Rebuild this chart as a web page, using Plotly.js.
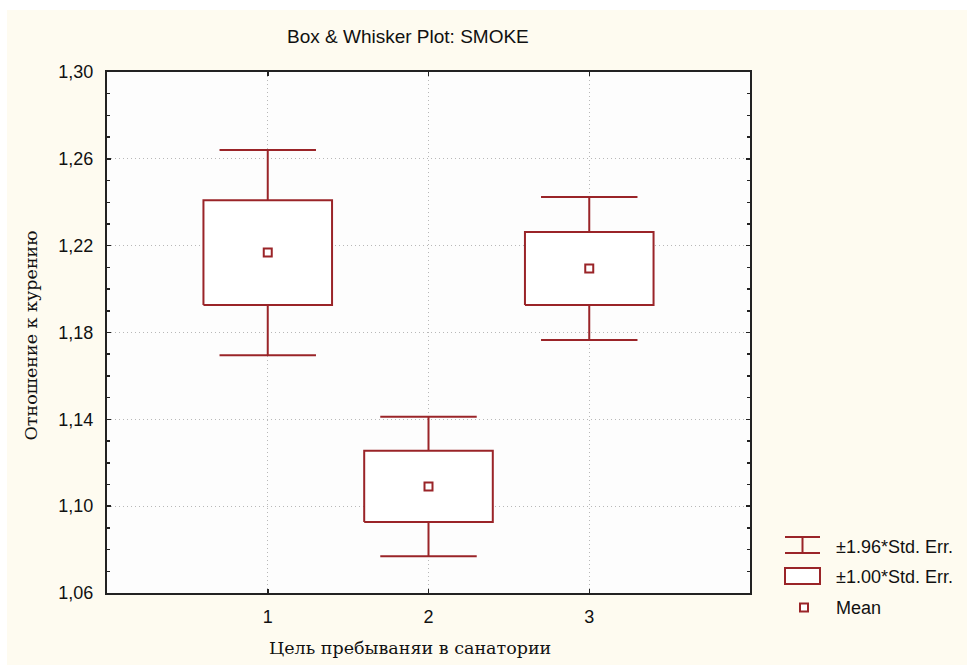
<!DOCTYPE html>
<html>
<head>
<meta charset="utf-8">
<script src="https://cdn.plot.ly/plotly-3.0.1.min.js"></script>
<style>
  html, body { margin: 0; padding: 0; background: #ffffff; }
  #chart { position: absolute; left: 7px; top: 10px; width: 960px; height: 655px; }
</style>
</head>
<body>
<div id="chart"></div>
<script>
// Groups (purpose of stay) and the summary statistics of SMOKE per group
const groups = [1, 2, 3];
const groupLabels = ['1', '2', '3'];
const means = [1.2168, 1.1091, 1.2095];
const stdErr = [0.0241, 0.0164, 0.0168];

// Y axis ticks
const yTicks = [1.06, 1.10, 1.14, 1.18, 1.22, 1.26, 1.30];

const seBoxFactor = 1.00;
const whiskerFactor = 1.96;

const COLOR = '#9a2428';
const BOX_HALF = 0.4;
const CAP_HALF = 0.3;

const traces = [];

// Whiskers: mean ± 1.96·SE with caps
const wx = [], wy = [];
groups.forEach((g, i) => {
  const bHi = means[i] + seBoxFactor * stdErr[i];
  const bLo = means[i] - seBoxFactor * stdErr[i];
  const wHi = means[i] + whiskerFactor * stdErr[i];
  const wLo = means[i] - whiskerFactor * stdErr[i];
  wx.push(g, g, null, g - CAP_HALF, g + CAP_HALF, null);
  wy.push(bHi, wHi, null, wHi, wHi, null);
  wx.push(g, g, null, g - CAP_HALF, g + CAP_HALF, null);
  wy.push(bLo, wLo, null, wLo, wLo, null);
});
traces.push({
  type: 'scatter', mode: 'lines', x: wx, y: wy,
  line: { color: COLOR, width: 2 }, hoverinfo: 'skip', showlegend: false
});

// Boxes: mean ± 1.00·SE, filled white
groups.forEach((g, i) => {
  const bHi = means[i] + seBoxFactor * stdErr[i];
  const bLo = means[i] - seBoxFactor * stdErr[i];
  traces.push({
    type: 'scatter', mode: 'lines',
    x: [g - BOX_HALF, g + BOX_HALF, g + BOX_HALF, g - BOX_HALF, g - BOX_HALF],
    y: [bLo, bLo, bHi, bHi, bLo],
    fill: 'toself', fillcolor: '#ffffff',
    line: { color: COLOR, width: 2 }, hoverinfo: 'skip', showlegend: false
  });
});

// Means
traces.push({
  type: 'scatter', mode: 'markers', x: groups, y: means,
  marker: { symbol: 'square-open', size: 8, color: COLOR, line: { color: COLOR, width: 2 } },
  hoverinfo: 'skip', showlegend: false
});

// Geometry of the plotting area inside the chart div (pixels)
const PL = 100, PR = 217, PT = 62, PB = 72, W = 960, H = 655;
const pw = W - PL - PR, ph = H - PT - PB;
const px = v => (v - 7 - PL) / pw;          // page x -> paper x
const py = v => (H - PB - (v - 10)) / ph;   // page y -> paper y

const sansFont = { family: 'Liberation Sans, Arial, sans-serif', size: 18, color: '#111111' };
const serifFont = { family: 'DejaVu Serif, serif', size: 17.5, color: '#111111' };

// Legend glyphs
const lx0 = px(785), lx1 = px(820), lxm = px(802.5);
const shapes = [
  { type: 'line', xref: 'paper', yref: 'paper', x0: lx0, x1: lx1, y0: py(537), y1: py(537), line: { color: COLOR, width: 2 } },
  { type: 'line', xref: 'paper', yref: 'paper', x0: lx0, x1: lx1, y0: py(553), y1: py(553), line: { color: COLOR, width: 2 } },
  { type: 'line', xref: 'paper', yref: 'paper', x0: lxm, x1: lxm, y0: py(537), y1: py(553), line: { color: COLOR, width: 2 } },
  { type: 'rect', xref: 'paper', yref: 'paper', x0: lx0, x1: lx1, y0: py(584), y1: py(568), fillcolor: '#ffffff', line: { color: COLOR, width: 2 } },
  { type: 'rect', xref: 'paper', yref: 'paper', x0: px(800), x1: px(808), y0: py(611.5), y1: py(603.5), fillcolor: '#ffffff', line: { color: COLOR, width: 2 } }
];

const annotations = [
  { text: 'Box & Whisker Plot: SMOKE', xref: 'paper', yref: 'paper', x: px(408), y: py(36),
    xanchor: 'center', yanchor: 'middle', showarrow: false, font: { ...sansFont, size: 19 } },
  { text: 'Цель пребываняи в санатории', xref: 'paper', yref: 'paper', x: px(410), y: py(648),
    xanchor: 'center', yanchor: 'middle', showarrow: false, font: serifFont },
  { text: 'Отношение к курению', xref: 'paper', yref: 'paper', x: px(30.5), y: py(336),
    xanchor: 'center', yanchor: 'middle', textangle: -90, showarrow: false, font: serifFont },
  { text: '±1.96*Std. Err.', xref: 'paper', yref: 'paper', x: px(834), y: py(547),
    xanchor: 'left', yanchor: 'middle', showarrow: false, font: sansFont },
  { text: '±1.00*Std. Err.', xref: 'paper', yref: 'paper', x: px(834), y: py(577),
    xanchor: 'left', yanchor: 'middle', showarrow: false, font: sansFont },
  { text: 'Mean', xref: 'paper', yref: 'paper', x: px(834), y: py(608),
    xanchor: 'left', yanchor: 'middle', showarrow: false, font: sansFont }
];

const layout = {
  width: W, height: H,
  margin: { l: PL, r: PR, t: PT, b: PB, pad: 0 },
  paper_bgcolor: '#fefbf0',
  plot_bgcolor: '#fdfdfd',
  separators: ',.',
  showlegend: false,
  hovermode: false,
  xaxis: {
    range: [0, 4], tickvals: groups, ticktext: groupLabels,
    showgrid: true, gridcolor: '#b8b8b8', griddash: '1px,3px', gridwidth: 1,
    zeroline: false, showline: true, linecolor: '#222222', linewidth: 2, mirror: 'ticks',
    ticks: 'inside', ticklen: 4, tickwidth: 1.5, tickcolor: '#222222',
    ticklabelstandoff: 6, tickfont: sansFont, fixedrange: true
  },
  yaxis: {
    range: [1.06, 1.30], tickvals: yTicks, tickformat: '.2f',
    showgrid: true, gridcolor: '#b8b8b8', griddash: '1px,3px', gridwidth: 1,
    zeroline: false, showline: true, linecolor: '#222222', linewidth: 2, mirror: 'ticks',
    ticks: 'inside', ticklen: 4, tickwidth: 1.5, tickcolor: '#222222',
    minor: { dtick: 0.01, tick0: 1.06, ticks: 'inside', ticklen: 3, tickwidth: 1.5, tickcolor: '#222222', showgrid: false },
    ticklabelstandoff: 8, tickfont: sansFont, fixedrange: true
  },
  shapes: shapes,
  annotations: annotations
};

Plotly.newPlot('chart', traces, layout, { staticPlot: true, displayModeBar: false });
</script>
</body>
</html>
